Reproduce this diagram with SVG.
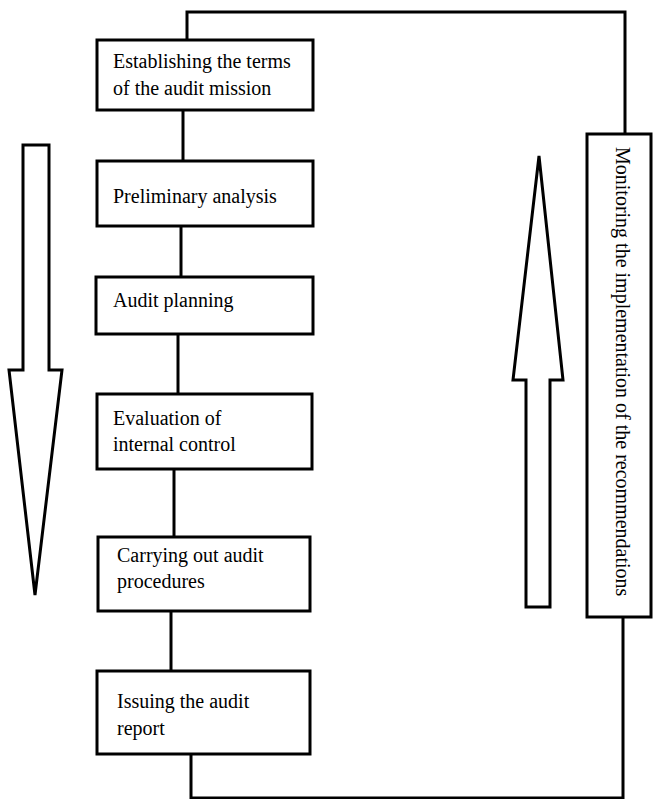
<svg xmlns="http://www.w3.org/2000/svg" width="654" height="799" viewBox="0 0 654 799">
<style>
.box{fill:#fff;stroke:#000;stroke-width:3}
.ln{fill:none;stroke:#000;stroke-width:3}
.arr{fill:#fff;stroke:#000;stroke-width:3;stroke-linejoin:miter}
text{font-family:"Liberation Serif","Times New Roman",serif;font-size:20px;fill:#000}
</style>
<rect width="654" height="799" fill="#fff"/>
<g id="connectors">
<polyline class="ln" points="187,40 187,12 625,12 625,134"/>
<line class="ln" x1="183" y1="110" x2="183" y2="161"/>
<line class="ln" x1="181" y1="226" x2="181" y2="277"/>
<line class="ln" x1="178" y1="334" x2="178" y2="394"/>
<line class="ln" x1="174" y1="469" x2="174" y2="537"/>
<line class="ln" x1="171" y1="611" x2="171" y2="671"/>
<polyline class="ln" points="191,754 191,798 623,798 623,617"/>
</g>
<g id="arrow-down">
<polygon class="arr" points="23,145 49,145 49,370 62,370 35,595 9,370 23,370"/>
</g>
<g id="arrow-up">
<polygon class="arr" points="526,607 550,607 550,380 563,380 539,156 513,380 526,380"/>
</g>
<g id="n1">
<rect class="box" x="97" y="40" width="216" height="70"/>
<text x="113" y="68">Establishing the terms</text>
<text x="113" y="95">of the audit mission</text>
</g>
<g id="n2">
<rect class="box" x="97" y="161" width="216" height="65"/>
<text x="113" y="203">Preliminary analysis</text>
</g>
<g id="n3">
<rect class="box" x="96" y="277" width="217" height="57"/>
<text x="113" y="307">Audit planning</text>
</g>
<g id="n4">
<rect class="box" x="97" y="394" width="215" height="75"/>
<text x="113" y="425">Evaluation of</text>
<text x="113" y="451">internal control</text>
</g>
<g id="n5">
<rect class="box" x="98" y="537" width="212" height="74"/>
<text x="117" y="562">Carrying out audit</text>
<text x="117" y="588">procedures</text>
</g>
<g id="n6">
<rect class="box" x="97" y="671" width="213" height="83"/>
<text x="117" y="708">Issuing the audit</text>
<text x="117" y="735">report</text>
</g>
<g id="n7">
<rect class="box" x="587" y="134" width="64" height="483"/>
<text transform="translate(616,147) rotate(90)">Monitoring the implementation of the recommendations</text>
</g>
</svg>
